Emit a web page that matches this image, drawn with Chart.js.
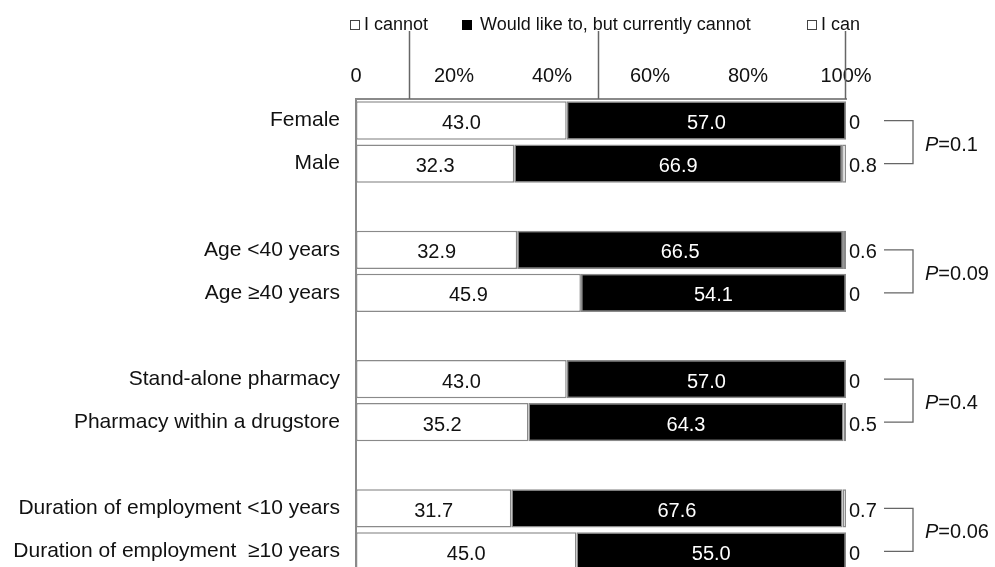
<!DOCTYPE html>
<html>
<head>
<meta charset="utf-8">
<script src="https://cdn.jsdelivr.net/npm/chart.js@4.4.0/dist/chart.umd.min.js"></script>
<style>
  html, body { margin: 0; padding: 0; background: #fff; overflow: hidden; }
  canvas { display: block; }
</style>
</head>
<body>
<canvas id="c" width="995" height="580" style="width:995px;height:580px"></canvas>
<script>
const categories = [
  'Female', 'Male', '',
  'Age <40 years', 'Age \u226540 years', '',
  'Stand-alone pharmacy', 'Pharmacy within a drugstore', '',
  'Duration of employment <10 years', 'Duration of employment  \u226510 years'
];
const seriesNames = ['I cannot', 'Would like to, but currently cannot', 'I can'];
const cannotValues = [43.0, 32.3, null, 32.9, 45.9, null, 43.0, 35.2, null, 31.7, 45.0];
const wouldLikeValues = [57.0, 66.9, null, 66.5, 54.1, null, 57.0, 64.3, null, 67.6, 55.0];
const canValues = [0, 0.8, null, 0.6, 0, null, 0, 0.5, null, 0.7, 0];
const xTickValues = [0, 20, 40, 60, 80, 100];
const xTickLabels = ['0', '20%', '40%', '60%', '80%', '100%'];
const pairFirstRows = [0, 3, 6, 9];
const pValues = ['0.1', '0.09', '0.4', '0.06'];
const leaderTargets = [10.8, 49.4, 99.8];

const FONT = '"Liberation Sans", Arial, Helvetica, sans-serif';
const GRAY = '#8a8a8a';
const TXT = '#111';

const annotations = {
  id: 'annotations',
  afterDatasetsDraw(chart) {
    const ctx = chart.ctx;
    const x = chart.scales.x, y = chart.scales.y;
    const area = chart.chartArea;
    ctx.save();
    // data labels
    ctx.font = '20px ' + FONT;
    ctx.textBaseline = 'middle';
    chart.data.datasets.forEach((ds, di) => {
      const meta = chart.getDatasetMeta(di);
      meta.data.forEach((bar, i) => {
        const v = ds.data[i];
        if (v === null || v === undefined) return;
        if (di < 2) {
          ctx.textAlign = 'center';
          ctx.fillStyle = di === 0 ? TXT : '#fff';
          ctx.fillText(v.toFixed(1), (bar.x + bar.base) / 2, bar.y + 3);
        } else {
          ctx.textAlign = 'left';
          ctx.fillStyle = TXT;
          ctx.fillText(v === 0 ? '0' : v.toFixed(1), bar.x + 3, bar.y + 3);
        }
      });
    });
    // brackets and P values
    ctx.strokeStyle = '#666';
    ctx.lineWidth = 1.3;
    pairFirstRows.forEach((r, k) => {
      const y1 = y.getPixelForValue(r), y2 = y.getPixelForValue(r + 1);
      const x0 = area.right + 38, x1 = area.right + 67;
      ctx.beginPath();
      ctx.moveTo(x0, y1); ctx.lineTo(x1, y1); ctx.lineTo(x1, y2); ctx.lineTo(x0, y2);
      ctx.stroke();
      const ym = (y1 + y2) / 2 + 3;
      ctx.textAlign = 'left';
      ctx.fillStyle = TXT;
      ctx.font = 'italic 20px ' + FONT;
      ctx.fillText('P', area.right + 79, ym);
      const pw = ctx.measureText('P').width;
      ctx.font = '20px ' + FONT;
      ctx.fillText('=' + pValues[k], area.right + 79 + pw, ym);
    });
    // legend
    ctx.font = '18px ' + FONT;
    ctx.textAlign = 'left';
    ctx.textBaseline = 'middle';
    const legendY = 25;
    const items = [
      { bx: 350, tx: 364, fill: false },
      { bx: 462, tx: 480, fill: true },
      { bx: 807, tx: 821, fill: false }
    ];
    items.forEach((it, k) => {
      if (it.fill) {
        ctx.fillStyle = '#000';
        ctx.fillRect(it.bx, legendY - 5, 10, 10);
      } else {
        ctx.strokeStyle = '#444';
        ctx.lineWidth = 1;
        ctx.strokeRect(it.bx + 0.5, legendY - 4.5, 9, 9);
      }
      ctx.fillStyle = TXT;
      ctx.fillText(seriesNames[k], it.tx, legendY);
    });
    // leader lines
    ctx.strokeStyle = '#666';
    ctx.lineWidth = 1.5;
    leaderTargets.forEach(v => {
      const px = Math.round(x.getPixelForValue(v)) + 0.5;
      ctx.beginPath();
      ctx.moveTo(px, 31);
      ctx.lineTo(px, area.top);
      ctx.stroke();
    });
    ctx.restore();
  }
};

new Chart(document.getElementById('c'), {
  type: 'bar',
  data: {
    labels: categories,
    datasets: [
      { label: seriesNames[0], data: cannotValues, backgroundColor: '#fff', borderColor: GRAY, borderWidth: 1.5, borderSkipped: false },
      { label: seriesNames[1], data: wouldLikeValues, backgroundColor: '#000', borderColor: GRAY, borderWidth: 1.5, borderSkipped: false },
      { label: seriesNames[2], data: canValues, backgroundColor: '#fff', borderColor: GRAY, borderWidth: 1.5, borderSkipped: false }
    ]
  },
  options: {
    indexAxis: 'y',
    responsive: false,
    maintainAspectRatio: false,
    animation: false,
    devicePixelRatio: 1,
    layout: { padding: { top: 0, left: 0, right: 149, bottom: 7 } },
    datasets: { bar: { categoryPercentage: 1.0, barPercentage: 0.89 } },
    plugins: { legend: { display: false }, tooltip: { enabled: false } },
    scales: {
      x: {
        position: 'top',
        stacked: true,
        min: 0, max: 100,
        afterBuildTicks(scale) { scale.ticks = xTickValues.map(v => ({ value: v })); },
        ticks: {
          padding: 11,
          color: TXT,
          font: { family: FONT, size: 20 },
          maxRotation: 0,
          autoSkip: false,
          callback: (v, i) => xTickLabels[i]
        },
        grid: { display: false, drawTicks: false },
        border: { display: true, color: GRAY, width: 2 },
        afterFit(scale) { scale.height = 99; scale.paddingLeft = 0; scale.paddingRight = 0; }
      },
      y: {
        stacked: true,
        ticks: {
          padding: 16,
          color: TXT,
          font: { family: FONT, size: 21 },
          autoSkip: false
        },
        grid: { display: false, drawTicks: false },
        border: { display: true, color: GRAY, width: 2 },
        afterFit(scale) { scale.width = 356; scale.paddingTop = 0; scale.paddingBottom = 0; }
      }
    }
  },
  plugins: [annotations]
});
</script>
</body>
</html>
